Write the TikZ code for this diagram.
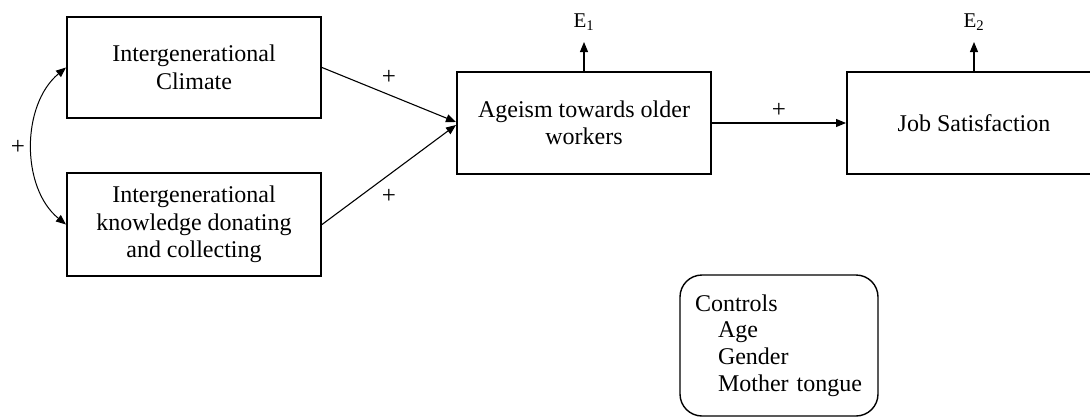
\documentclass[tikz,border=0pt]{standalone}
\usepackage{fontspec}
\setmainfont{Liberation Serif}
\usetikzlibrary{arrows.meta}
\begin{document}
\begin{tikzpicture}[x=1pt,y=-1pt,
  box/.style={draw,line width=2pt,align=center,inner sep=0pt,
    minimum width=254pt,font=\fontsize{24}{27.5}\selectfont},
  arr/.style={line width=1.1pt,-{Triangle[length=10pt,width=8pt]}},
  dblarr/.style={line width=1pt,{Triangle[length=10pt,width=8pt]}-{Triangle[length=10pt,width=8pt]}},
  lbl/.style={font=\fontsize{21}{24}\selectfont,inner sep=0pt},
  plus/.style={font=\fontsize{25}{26}\selectfont,inner sep=0pt}]
\useasboundingbox (0,0) rectangle (1090,418);
\node[box,minimum height=101pt] (b1) at (194,67.5) {Intergenerational\\Climate};
\node[box,minimum height=103pt] (b2) at (194,224.5) {Intergenerational\\knowledge donating\\and collecting};
\node[box,minimum height=102pt] (b3) at (584,123) {Ageism towards older\\workers};
\node[box,minimum height=102pt] (b4) at (974,123) {Job Satisfaction};
\node[draw,rounded corners=22pt,line width=1.4pt,minimum width=198pt,minimum height=141pt,
  text width=168pt,align=left,inner xsep=15pt,inner ysep=0pt,
  font=\fontsize{24}{26.7}\selectfont] (ctrl) at (779,345.5)
  {Controls\\\hspace*{23pt}Age\\\hspace*{23pt}Gender\\\hspace*{23pt}Mother tongue};
\node[lbl] (e1) at (584,22) {E\textsubscript{1}};
\node[lbl] (e2) at (974,22) {E\textsubscript{2}};
\coordinate (t1) at (584,42);
\coordinate (t2) at (974,42);
\draw[arr] (b3.north) -- (t1);
\draw[arr] (b4.north) -- (t2);
\draw[arr] (b1.east) -- ([yshift=1pt]b3.west);
\draw[arr] (b2.east) -- ([yshift=-2pt]b3.west);
\draw[arr] (b3.east) -- (b4.west);
\draw[dblarr] (b1.west) .. controls (21,105) and (21,188) .. (b2.west);
\node[plus] (p1) at (389,77) {+};
\node[plus] (p2) at (389,196) {+};
\node[plus] (p3) at (779,110) {+};
\node[plus] (p4) at (18,147) {+};
\end{tikzpicture}
\end{document}
